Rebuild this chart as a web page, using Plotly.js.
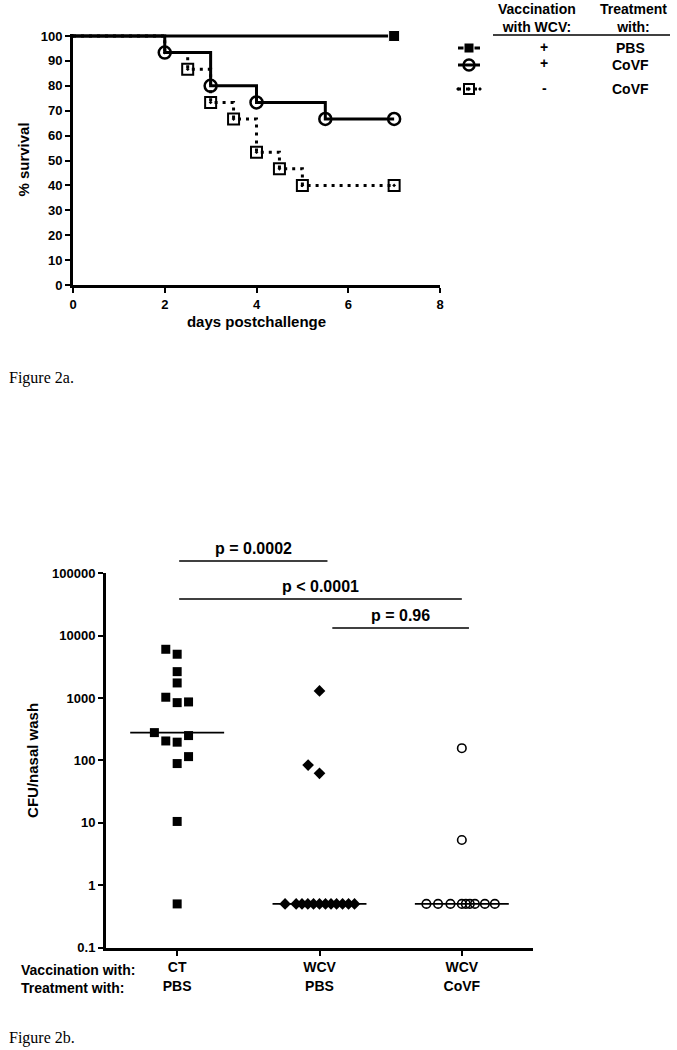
<!DOCTYPE html>
<html>
<head>
<meta charset="utf-8">
<script src="https://cdn.plot.ly/plotly-3.0.1.min.js"></script>
<style>
  body { margin: 0; background: #fff; }
  #chart { width: 677px; height: 1050px; }
</style>
</head>
<body>
<div id="chart"></div>
<script>
// Figure 2a: survival curves
const pbsDays = [0, 7];
const pbsSurvival = [100, 100];
const covfDays = [0, 2, 3, 4, 5.5, 7];
const covfSurvival = [100, 93.33, 80, 73.33, 66.67, 66.67];
const unvacDays = [0, 2, 2.5, 3, 3.5, 4, 4.5, 5, 7];
const unvacSurvival = [100, 93.33, 86.67, 73.33, 66.67, 53.33, 46.67, 40, 40];

// Figure 2b: CFU per nasal wash
const groupLabels = ['CT<br>PBS', 'WCV<br>PBS', 'WCV<br>CoVF'];
const ctPbsCfu = [6050, 5040, 2650, 1745, 1030, 844, 866, 279, 250, 205, 196, 115, 89, 10.5, 0.5];
const ctPbsSpread = [-0.08, 0, 0, 0, -0.08, 0, 0.08, -0.16, 0.08, -0.08, 0, 0.08, 0, 0, 0];
const wcvPbsCfu = [1300, 84, 62, 0.5, 0.5, 0.5, 0.5, 0.5, 0.5, 0.5, 0.5, 0.5, 0.5, 0.5, 0.5];
const wcvPbsSpread = [0, -0.08, 0, -0.242, -0.164, -0.123, -0.082, -0.042, 0, 0.042, 0.081, 0.12, 0.162, 0.204, 0.246];
const wcvCovfCfu = [157, 5.3, 0.5, 0.5, 0.5, 0.5, 0.5, 0.5, 0.5, 0.5, 0.5];
const wcvCovfSpread = [0, 0, -0.249, -0.167, -0.08, 0, 0.028, 0.056, 0.092, 0.162, 0.232];
const pLabels = ['p = 0.0002', 'p < 0.0001', 'p = 0.96'];

const W = 677, H = 1050;
const px = x => x / W;
const py = y => 1 - y / H;
const FONT = 'Liberation Sans, Arial, sans-serif';
const bold = size => ({ family: FONT, size: size, color: '#000', weight: 'bold' });

function median(arr) {
    const s = arr.slice().sort((a, b) => a - b);
    const m = Math.floor(s.length / 2);
    return s.length % 2 ? s[m] : (s[m - 1] + s[m]) / 2;
}

// hide the marker on the first points (start of curve)
const markAfter = (n, k, size) => Array.from({length: n}, (_, i) => i < k ? 0 : size);

const survivalTraces = [
    {
        x: pbsDays, y: pbsSurvival, xaxis: 'x', yaxis: 'y',
        mode: 'lines+markers', cliponaxis: false,
        line: { color: '#000', width: 3, shape: 'hv' },
        marker: { symbol: 'square', color: '#000', opacity: 1, size: markAfter(pbsDays.length, 1, 11) }
    },
    {
        x: covfDays, y: covfSurvival, xaxis: 'x', yaxis: 'y',
        mode: 'lines+markers', cliponaxis: false,
        line: { color: '#000', width: 3, shape: 'hv' },
        marker: { symbol: 'circle-open', color: '#000', opacity: 1, size: markAfter(covfDays.length, 1, 12), line: { width: 2.5 } }
    },
    {
        x: unvacDays, y: unvacSurvival, xaxis: 'x', yaxis: 'y',
        mode: 'lines+markers', cliponaxis: false,
        line: { color: '#000', width: 3, shape: 'hv', dash: '3px,5px' },
        marker: { symbol: 'square-open-dot', color: '#000', opacity: 1, size: markAfter(unvacDays.length, 2, 11), line: { width: 2 } }
    }
];

// legend keys drawn on a hidden axis pair (y in page pixels)
const keyRows = [48, 65, 89];
const keyStyles = [
    { line: { color: '#000', width: 3 }, marker: { symbol: 'square', color: '#000', size: 10 } },
    { line: { color: '#000', width: 3 }, marker: { symbol: 'circle-open', color: '#000', size: 11, line: { width: 2.5 } } },
    { line: { color: '#000', width: 3, dash: '3px,5px' }, marker: { symbol: 'square-open-dot', color: '#000', size: 10, line: { width: 2 } } }
];
const keyTraces = keyRows.map((row, i) => ({
    x: [0, 0.5, 1], y: [row, row, row], xaxis: 'x3', yaxis: 'y3',
    mode: 'lines+markers', cliponaxis: false,
    line: keyStyles[i].line,
    marker: Object.assign({}, keyStyles[i].marker, { opacity: 1, size: [0, keyStyles[i].marker.size, 0] })
}));

const groups = [
    { cfu: ctPbsCfu, spread: ctPbsSpread, marker: { symbol: 'square', color: '#000', size: 9 } },
    { cfu: wcvPbsCfu, spread: wcvPbsSpread, marker: { symbol: 'diamond', color: '#000', size: 9 } },
    { cfu: wcvCovfCfu, spread: wcvCovfSpread, marker: { symbol: 'circle-open', color: '#000', size: 8.5, line: { width: 1.6 } } }
];
const cfuTraces = [];
groups.forEach((g, i) => {
    const med = median(g.cfu);
    cfuTraces.push({
        x: [i - 0.33, i + 0.33], y: [med, med], xaxis: 'x2', yaxis: 'y2',
        mode: 'lines', line: { color: '#000', width: 1.6 }
    });
    cfuTraces.push({
        x: g.spread.map(d => i + d), y: g.cfu, xaxis: 'x2', yaxis: 'y2',
        mode: 'markers', cliponaxis: false, marker: g.marker
    });
});

const axisCommon = {
    showgrid: false, zeroline: false, showline: true, linecolor: '#000', linewidth: 3,
    ticks: 'outside', ticklen: 5, tickwidth: 2, tickcolor: '#000', tickfont: bold(13)
};

const brackets = [
    { x0: 0.014, x1: 1.056, y: 561, ty: 548 },
    { x0: 0.014, x1: 2.0, y: 599, ty: 586 },
    { x0: 1.09, x1: 2.05, y: 628, ty: 615 }
];

const shapes = brackets.map(b => ({
    type: 'line', xref: 'x2', yref: 'paper', x0: b.x0, x1: b.x1, y0: py(b.y), y1: py(b.y),
    line: { color: '#000', width: 1.6 }
}));
shapes.push({
    type: 'line', xref: 'paper', yref: 'paper', x0: px(493), x1: px(670), y0: py(35), y1: py(35),
    line: { color: '#000', width: 1.6 }
});

const annotations = [];
brackets.forEach((b, i) => {
    annotations.push({
        xref: 'x2', yref: 'paper', x: (b.x0 + b.x1) / 2, y: py(b.ty), text: pLabels[i],
        showarrow: false, font: bold(16), xanchor: 'center', yanchor: 'middle'
    });
});
const legendText = [
    { x: 537, y: 18, t: 'Vaccination<br>with WCV:' },
    { x: 633, y: 18, t: 'Treatment<br>with:' },
    { x: 544, y: keyRows[0] - 1, t: '+' },
    { x: 544, y: keyRows[1] - 2, t: '+' },
    { x: 544, y: keyRows[2] - 1, t: '-' },
    { x: 630, y: keyRows[0], t: 'PBS' },
    { x: 630, y: keyRows[1], t: 'CoVF' },
    { x: 630, y: keyRows[2], t: 'CoVF' }
];
legendText.forEach(l => annotations.push({
    xref: 'paper', yref: 'paper', x: px(l.x), y: py(l.y), text: l.t, showarrow: false,
    font: bold(14), xanchor: 'center', yanchor: 'middle'
}));
annotations.push({
    xref: 'paper', yref: 'paper', x: px(19), y: py(979), text: 'Vaccination with:<br>Treatment with:',
    showarrow: false, font: bold(14), xanchor: 'left', yanchor: 'middle', align: 'left'
});
annotations.push({
    xref: 'paper', yref: 'paper', x: px(7), y: py(378), text: 'Figure 2a.', showarrow: false,
    font: { family: 'Liberation Serif, Times New Roman, serif', size: 16, color: '#000' }, xanchor: 'left', yanchor: 'middle'
});
annotations.push({
    xref: 'paper', yref: 'paper', x: px(7), y: py(1038), text: 'Figure 2b.', showarrow: false,
    font: { family: 'Liberation Serif, Times New Roman, serif', size: 16, color: '#000' }, xanchor: 'left', yanchor: 'middle'
});

const layout = {
    width: W, height: H,
    margin: { l: 0, r: 0, t: 0, b: 0 },
    paper_bgcolor: '#fff', plot_bgcolor: 'rgba(0,0,0,0)',
    showlegend: false,
    font: { family: FONT, color: '#000' },
    xaxis: Object.assign({}, axisCommon, {
        domain: [px(73), px(440)], range: [0, 8], dtick: 2, anchor: 'y',
        title: { text: 'days postchallenge', font: bold(15), standoff: 6 }
    }),
    // range runs a hair past 100 so the 100% line is not clipped
    yaxis: Object.assign({}, axisCommon, {
        domain: [py(285), py(34)], range: [0, 100.8], tickvals: [0, 10, 20, 30, 40, 50, 60, 70, 80, 90, 100], anchor: 'x',
        title: { text: '% survival', font: bold(15), standoff: 8 }
    }),
    xaxis2: Object.assign({}, axisCommon, {
        domain: [px(106), px(533)], range: [-0.5, 2.5], anchor: 'y2',
        tickvals: [0, 1, 2], ticktext: groupLabels, tickfont: bold(14)
    }),
    yaxis2: Object.assign({}, axisCommon, {
        domain: [py(947.5), py(573.3)], type: 'log', range: [-1, 5], anchor: 'x2',
        tickvals: [0.1, 1, 10, 100, 1000, 10000, 100000],
        ticktext: ['0.1', '1', '10', '100', '1000', '10000', '100000'],
        title: { text: 'CFU/nasal wash', font: bold(15), standoff: 10 }
    }),
    xaxis3: { domain: [px(458), px(480)], range: [0, 1], visible: false, anchor: 'y3' },
    yaxis3: { domain: [0, 1], range: [H, 0], visible: false, anchor: 'x3' },
    shapes: shapes,
    annotations: annotations
};

Plotly.newPlot('chart', survivalTraces.concat(cfuTraces, keyTraces), layout, { staticPlot: true });
</script>
</body>
</html>
